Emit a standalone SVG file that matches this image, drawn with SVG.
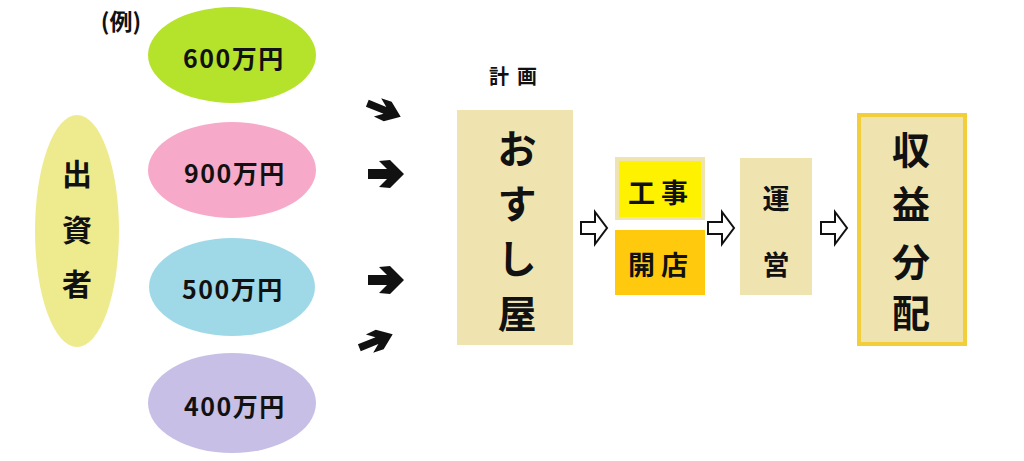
<svg xmlns="http://www.w3.org/2000/svg" width="1024" height="461" viewBox="0 0 1024 461">
<style>
text{font-family:"Noto Sans CJK JP","Noto Sans",sans-serif;font-weight:bold;fill:#111;text-anchor:middle;dominant-baseline:central}
.amt{font-size:25px;letter-spacing:1.5px}
.box{fill:#efe4b0}
.big{font-size:39px}
.mid{font-size:38px}
.sm{font-size:27px}
.hollow{fill:#fff;stroke:#111;stroke-width:2;stroke-linejoin:miter}
.solid{fill:#111}
</style>
<defs>
<path id="ar" d="M-18,-5 L1,-5 L-7,-13 L4,-14 L18,0 L4,14 L-7,13 L1,5 L-18,5 Z"/>
<path id="ha" d="M-13,-6 L1,-6 L1,-16 L13,0 L1,16 L1,6 L-13,6 Z"/>
</defs>
<rect width="1024" height="461" fill="#fff"/>
<text x="121" y="20" style="font-size:23px">(例)</text>
<g id="investor">
<ellipse cx="77" cy="231" rx="42" ry="116" fill="#eeeb8f"/>
<text x="77" y="172" style="font-size:30px">出</text>
<text x="77" y="228" style="font-size:30px">資</text>
<text x="77" y="282" style="font-size:30px">者</text>
</g>
<g id="a600"><ellipse cx="232" cy="55" rx="84" ry="48" fill="#b5e22b"/><text class="amt" x="234" y="57">600万円</text></g>
<g id="a900"><ellipse cx="232" cy="170" rx="84" ry="48" fill="#f7a9c9"/><text class="amt" x="235" y="172">900万円</text></g>
<g id="a500"><ellipse cx="232" cy="287" rx="83" ry="49" fill="#9fd9e8"/><text class="amt" x="233" y="288">500万円</text></g>
<g id="a400"><ellipse cx="232" cy="403" rx="84" ry="50" fill="#c8bfe6"/><text class="amt" x="235" y="405">400万円</text></g>
<text x="517" y="75" style="font-size:20px;letter-spacing:8px">計画</text>
<g id="sushi">
<rect class="box" x="457" y="110" width="116" height="235"/>
<text class="big" x="517" y="146">お</text>
<text class="big" x="517" y="201">す</text>
<text class="big" x="517" y="256">し</text>
<text class="big" x="517" y="311">屋</text>
</g>
<g id="koji">
<rect x="615" y="157" width="90" height="63" fill="#efe4b0"/>
<rect x="619" y="161" width="82" height="56" fill="#fff200"/>
<text class="sm" x="661" y="191" style="letter-spacing:6px">工事</text>
</g>
<g id="kaiten">
<rect x="615" y="230" width="90" height="65" fill="#ffc90e"/>
<text class="sm" x="661" y="263" style="letter-spacing:6px">開店</text>
</g>
<g id="unei">
<rect class="box" x="740" y="158" width="72" height="137"/>
<text class="sm" x="776" y="197">運</text>
<text class="sm" x="776" y="263">営</text>
</g>
<g id="shueki">
<rect x="859" y="115" width="106" height="229" fill="#efe4b0" stroke="#f2cf3a" stroke-width="4"/>
<text class="mid" x="911" y="147">収</text>
<text class="mid" x="911" y="201">益</text>
<text class="mid" x="911" y="259">分</text>
<text class="mid" x="911" y="310">配</text>
</g>
<g id="connectors">
<use href="#ar" class="solid" transform="translate(384,110) rotate(22) scale(1,0.75)"/>
<use href="#ar" class="solid" transform="translate(386,174)"/>
<use href="#ar" class="solid" transform="translate(386,280)"/>
<use href="#ar" class="solid" transform="translate(376,341) rotate(-22) scale(1,0.75)"/>
<use href="#ha" class="hollow" transform="translate(594,228)"/>
<use href="#ha" class="hollow" transform="translate(721,228)"/>
<use href="#ha" class="hollow" transform="translate(834,228)"/>
</g>
</svg>
